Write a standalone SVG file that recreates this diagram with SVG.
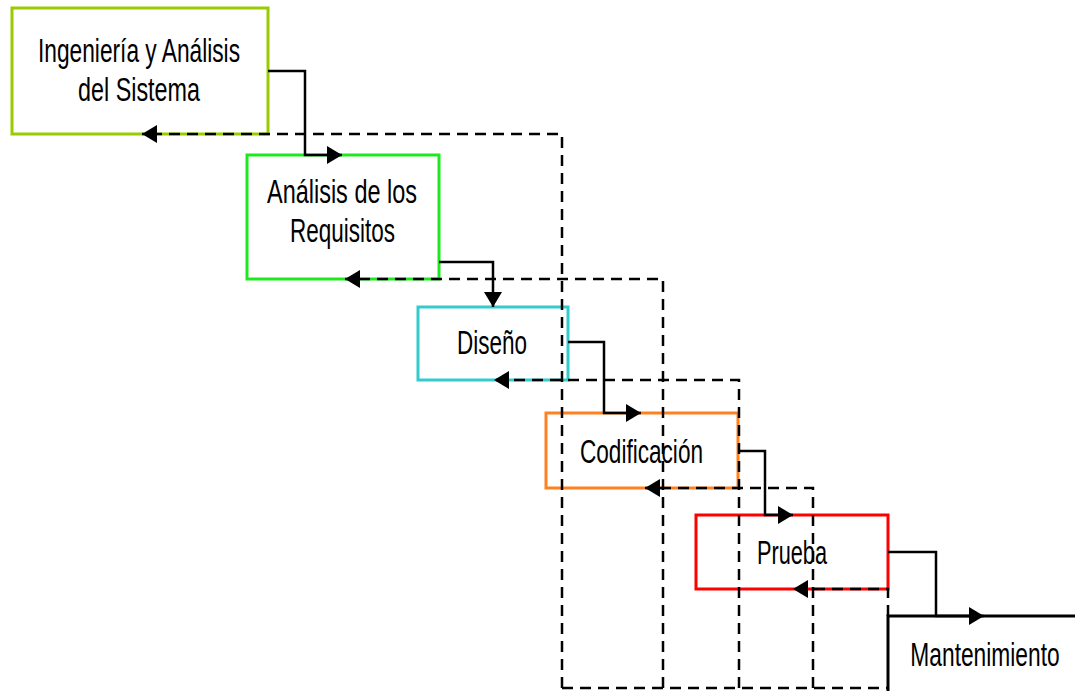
<svg xmlns="http://www.w3.org/2000/svg" width="1075" height="691" viewBox="0 0 1075 691">
<style>
.box{fill:#fff;stroke-width:3}
.lbl{font-family:"Liberation Sans",Arial,sans-serif;font-size:34px;fill:#000;text-anchor:middle}
.solid{fill:none;stroke:#000;stroke-width:2.5;marker-end:url(#arr)}
.dash{fill:none;stroke:#000;stroke-width:2.5;stroke-dasharray:11 7}
.back{fill:none;stroke:#000;stroke-width:2.5;stroke-dasharray:11 7;marker-end:url(#arr)}
</style>
<defs>
<marker id="arr" markerUnits="userSpaceOnUse" markerWidth="17" markerHeight="20" refX="15" refY="9" orient="auto">
<path d="M0,0 L15,9 L0,18 z" fill="#000"/>
</marker>
</defs>
<rect width="1075" height="691" fill="#fff"/>
<g id="node-ingenieria">
<rect class="box" x="12" y="8" width="256" height="126" stroke="#99cc00"/>
<text class="lbl" x="139" y="62" textLength="202" lengthAdjust="spacingAndGlyphs">Ingeniería y Análisis</text>
<text class="lbl" x="139" y="101" textLength="122" lengthAdjust="spacingAndGlyphs">del Sistema</text>
</g>
<g id="node-requisitos">
<rect class="box" x="247" y="155" width="192" height="124" stroke="#1ee81e"/>
<text class="lbl" x="342" y="203" textLength="150" lengthAdjust="spacingAndGlyphs">Análisis de los</text>
<text class="lbl" x="342.5" y="242" textLength="105" lengthAdjust="spacingAndGlyphs">Requisitos</text>
</g>
<g id="node-diseno">
<rect class="box" x="418" y="307" width="150" height="73" stroke="#33cccc"/>
<text class="lbl" x="492" y="354" textLength="70" lengthAdjust="spacingAndGlyphs">Diseño</text>
</g>
<g id="node-codificacion">
<rect class="box" x="546" y="413" width="192" height="75" stroke="#ff8020"/>
<text class="lbl" x="641.5" y="463" textLength="123" lengthAdjust="spacingAndGlyphs">Codificación</text>
</g>
<g id="node-prueba">
<rect class="box" x="696" y="515" width="192" height="74" stroke="#ff0000"/>
<text class="lbl" x="792" y="564" textLength="70" lengthAdjust="spacingAndGlyphs">Prueba</text>
</g>
<g id="node-mantenimiento">
<rect x="888" y="616" width="187" height="75" fill="#fff"/>
<path d="M1075,616 H888 V691" fill="none" stroke="#000" stroke-width="3"/>
<text class="lbl" transform="translate(985,666) scale(0.67,1)" x="0" y="0">Mantenimiento</text>
</g>
<g id="connectors">
<path class="solid" d="M268,71 H305 V155 H342"/>
<path class="solid" d="M439,262 H493 V307"/>
<path class="solid" d="M568,342 H604 V413 H641"/>
<path class="solid" d="M738,451 H765 V515 H793"/>
<path class="solid" d="M888,552 H936 V616 H984"/>
<path class="dash" d="M562,688 H888"/>
<path class="back" d="M562,688 V134 H142"/>
<path class="back" d="M663,688 V279 H345"/>
<path class="back" d="M739,688 V380 H494"/>
<path class="back" d="M813,688 V488 H645"/>
<path class="back" d="M888,616 V589 H793"/>
</g>
</svg>
